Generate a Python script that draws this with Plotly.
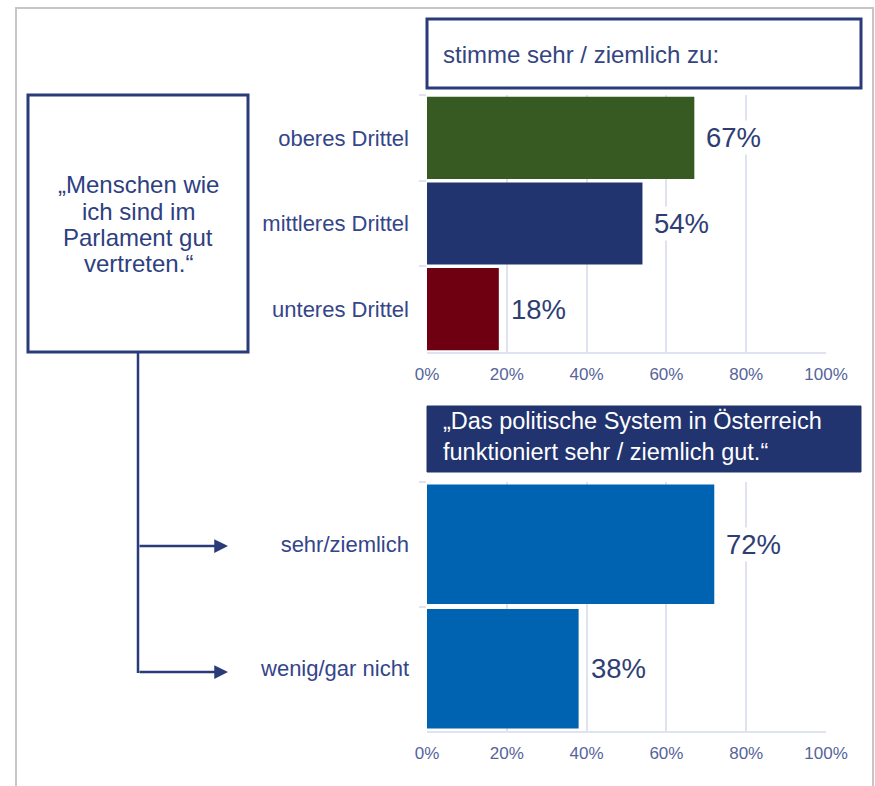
import plotly.graph_objects as go

# ---------------- data ----------------
cats_top = ["oberes Drittel", "mittleres Drittel", "unteres Drittel"]
vals_top = [67, 54, 18]
colors_top = ["#375a22", "#22346f", "#6e0011"]

cats_bot = ["sehr/ziemlich", "wenig/gar nicht"]
vals_bot = [72, 38]
colors_bot = ["#0063b1", "#0063b1"]

tick_vals = [0, 20, 40, 60, 80, 100]
tick_text = ["0%", "20%", "40%", "60%", "80%", "100%"]

header_top = "stimme sehr / ziemlich zu:"
header_bot = "„Das politische System in Österreich<br>funktioniert sehr / ziemlich gut.“"
left_lines = ["„Menschen wie", "ich sind im", "Parlament gut", "vertreten.“"]

# ---------------- layout helpers ----------------
W, H = 875, 786
def px(x):
    return x / W
def py(y):
    return 1 - y / H

NAVY = "#2a3b7b"
GRID = "#dfe3ef"
FONT = "Liberation Sans, Arial, sans-serif"
TICKCOL = "#56649a"
CATCOL = "#34458a"
PCTCOL = "#2e3d73"

fig = go.Figure()
fig.add_trace(go.Bar(y=cats_top, x=vals_top, orientation="h",
                     marker=dict(color=colors_top, line=dict(width=0)),
                     xaxis="x", yaxis="y", showlegend=False, hoverinfo="skip"))
fig.add_trace(go.Bar(y=cats_bot, x=vals_bot, orientation="h",
                     marker=dict(color=colors_bot, line=dict(width=0)),
                     xaxis="x2", yaxis="y2", showlegend=False, hoverinfo="skip"))

xcommon = dict(range=[0, 100], tickvals=tick_vals, ticktext=tick_text,
               showgrid=True, gridcolor=GRID, gridwidth=1.5, zeroline=False,
               showline=True, linecolor=GRID, linewidth=1.5, ticks="",
               tickfont=dict(family=FONT, size=17, color=TICKCOL),
               ticklabelstandoff=6, fixedrange=True, automargin=False)
ycommon = dict(type="category", autorange="reversed", ticks="outside",
               tickson="boundaries", ticklen=7, tickcolor=GRID, tickwidth=1.5,
               showline=False, showgrid=False, zeroline=False,
               tickfont=dict(family=FONT, size=22, color=CATCOL),
               ticklabelstandoff=17, fixedrange=True, automargin=False)

fig.update_layout(
    width=W, height=H, margin=dict(l=0, r=0, t=0, b=0, pad=0, autoexpand=False),
    paper_bgcolor="white", plot_bgcolor="white", bargap=0.04,
    xaxis=dict(domain=[px(427), px(826)], anchor="y", **xcommon),
    yaxis=dict(domain=[py(352), py(95)], anchor="x",
               categoryorder="array", categoryarray=cats_top, **ycommon),
    xaxis2=dict(domain=[px(427), px(826)], anchor="y2", **xcommon),
    yaxis2=dict(domain=[py(731), py(482)], anchor="x2",
                categoryorder="array", categoryarray=cats_bot, **ycommon),
    font=dict(family=FONT),
)

shapes = []
# outer frame
shapes.append(dict(type="rect", xref="paper", yref="paper",
                   x0=px(16), x1=px(873), y0=py(800), y1=py(8),
                   line=dict(color="#c6c6c6", width=2), fillcolor="rgba(0,0,0,0)", layer="below"))
# top header box
shapes.append(dict(type="rect", xref="paper", yref="paper",
                   x0=px(427), x1=px(861), y0=py(88), y1=py(19),
                   line=dict(color=NAVY, width=3), fillcolor="white"))
# bottom header box
shapes.append(dict(type="rect", xref="paper", yref="paper",
                   x0=px(427), x1=px(861), y0=py(472), y1=py(406),
                   line=dict(color="#22346f", width=1), fillcolor="#22346f"))
# left statement box
shapes.append(dict(type="rect", xref="paper", yref="paper",
                   x0=px(28), x1=px(248), y0=py(352), y1=py(95),
                   line=dict(color=NAVY, width=3), fillcolor="white"))
# connector vertical line
shapes.append(dict(type="line", xref="paper", yref="paper",
                   x0=px(138), x1=px(138), y0=py(352), y1=py(673),
                   line=dict(color=NAVY, width=2.5)))
fig.update_layout(shapes=shapes)

ann = []
ann.append(dict(xref="paper", yref="paper", x=px(441), y=py(54), xanchor="left", yanchor="middle",
                text=header_top, showarrow=False,
                font=dict(family=FONT, size=24, color="#34457f")))
ann.append(dict(xref="paper", yref="paper", x=px(441), y=py(437), xanchor="left", yanchor="middle",
                text=header_bot, showarrow=False, align="left",
                font=dict(family=FONT, size=23.5, color="white")))
for i, line in enumerate(left_lines):
    ann.append(dict(xref="paper", yref="paper", x=px(138), y=py(185 + 26 * i),
                    xanchor="center", yanchor="middle", text=line, showarrow=False,
                    font=dict(family=FONT, size=24, color="#2e4080")))
# arrows
for yy in (546, 672):
    ann.append(dict(xref="paper", yref="paper", x=px(228), y=py(yy),
                    ax=-90, ay=0, text="", showarrow=True, arrowhead=2,
                    arrowsize=1.1, arrowwidth=2.5, arrowcolor=NAVY))
# value labels
for c, v in zip(cats_top, vals_top):
    ann.append(dict(xref="x", yref="y", x=v, y=c, xanchor="left", yanchor="middle",
                    xshift=10, text=f"{v}%", showarrow=False, bgcolor="white",
                    font=dict(family=FONT, size=27.5, color=PCTCOL)))
for c, v in zip(cats_bot, vals_bot):
    ann.append(dict(xref="x2", yref="y2", x=v, y=c, xanchor="left", yanchor="middle",
                    xshift=10, text=f"{v}%", showarrow=False, bgcolor="white",
                    font=dict(family=FONT, size=27.5, color=PCTCOL)))
fig.update_layout(annotations=ann)

fig.write_html("out.html")
